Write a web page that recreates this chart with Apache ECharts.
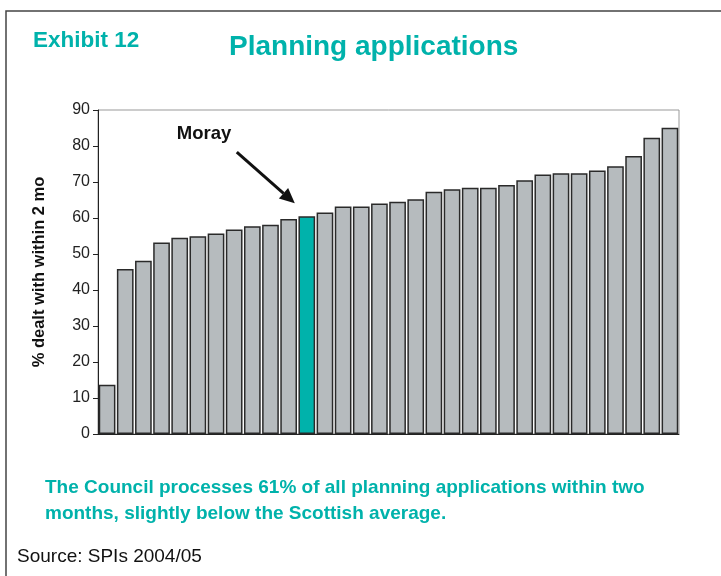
<!DOCTYPE html>
<html><head><meta charset="utf-8">
<script src="https://cdn.jsdelivr.net/npm/echarts@6/dist/echarts.min.js"></script>
<style>html,body{margin:0;padding:0;background:#fff}#c{width:721px;height:576px}</style>
</head><body><div id="c"></div>
<script>
const categories = ["1","2","3","4","5","6","7","8","9","10","11","Moray","13","14","15","16","17","18","19","20","21","22","23","24","25","26","27","28","29","30","31","32"];
const values = [13.7,45.8,48.1,53.2,54.5,54.9,55.7,56.8,57.7,58.1,59.7,60.5,61.5,63.2,63.2,64.0,64.5,65.2,67.3,68.0,68.4,68.4,69.2,70.5,72.1,72.4,72.4,73.2,74.4,77.2,82.3,85.1];
const highlight = "Moray";
const yTicks = [0,10,20,30,40,50,60,70,80,90];

const TEAL = '#00b2ab';
const FONT = '"Liberation Sans", Arial, sans-serif';
const chart = echarts.init(document.getElementById('c'));
chart.setOption({
  animation: false,
  backgroundColor: '#fff',
  grid: {left: 98, right: 42, top: 110, bottom: 142, show: true, borderColor: '#999', borderWidth: 1},
  xAxis: {type: 'category', data: categories, axisLine: {lineStyle: {color: '#222', width: 1}}, axisTick: {show: false}, axisLabel: {show: false}},
  yAxis: {type: 'value', min: yTicks[0], max: yTicks[yTicks.length-1], interval: 10,
    name: '% dealt with within 2 mo', nameLocation: 'middle', nameGap: 50,
    nameTextStyle: {fontFamily: FONT, fontWeight: 'bold', fontSize: 16.5, color: '#111'},
    axisLine: {show: true, lineStyle: {color: '#222', width: 1}},
    axisTick: {show: true, length: 5, lineStyle: {color: '#222'}},
    axisLabel: {fontFamily: FONT, fontSize: 16, color: '#222', margin: 8},
    splitLine: {show: false}},
  series: [{type: 'bar', barCategoryGap: '8%',
    data: values.map((v, i) => ({value: v, itemStyle: {color: categories[i] === highlight ? TEAL : '#b6bbbe'}})),
    itemStyle: {borderColor: '#2a2a2a', borderWidth: 1.5}}]
});
// annotation arrow pointing at the highlighted bar
const hi = categories.indexOf(highlight);
const p = chart.convertToPixel({seriesIndex: 0}, [hi, values[hi]]);
const tip = [p[0] - 12, p[1] - 13];
const start = [p[0] - 70, p[1] - 64];
const ang = Math.atan2(tip[1] - start[1], tip[0] - start[0]);
const L = 15, W = 7;
const base = [tip[0] - L * Math.cos(ang), tip[1] - L * Math.sin(ang)];
const h1 = [base[0] + W * Math.sin(ang), base[1] - W * Math.cos(ang)];
const h2 = [base[0] - W * Math.sin(ang), base[1] + W * Math.cos(ang)];
chart.setOption({graphic: [
  {type: 'rect', shape: {x: 6, y: 11, width: 900, height: 800}, style: {fill: 'none', stroke: '#444', lineWidth: 1.5}, silent: true},
  {type: 'text', left: 33, top: 29, style: {text: 'Exhibit 12', font: 'bold 22.5px ' + FONT, fill: TEAL}},
  {type: 'text', left: 229, top: 33, style: {text: 'Planning applications', font: 'bold 28px ' + FONT, fill: TEAL}},
  {type: 'text', left: 45, top: 475, style: {text: 'The Council processes 61% of all planning applications within two\nmonths, slightly below the Scottish average.', font: 'bold 19px ' + FONT, fill: TEAL, lineHeight: 26}},
  {type: 'text', left: 17, top: 547, style: {text: 'Source: SPIs 2004/05', font: '19px ' + FONT, fill: '#111'}},
  {type: 'text', x: start[0] - 60, y: start[1] - 28, style: {text: highlight, font: 'bold 18.5px ' + FONT, fill: '#111'}},
  {type: 'line', shape: {x1: start[0], y1: start[1], x2: base[0], y2: base[1]}, style: {stroke: '#111', lineWidth: 3}},
  {type: 'polygon', shape: {points: [tip, h1, h2]}, style: {fill: '#111'}}
]});
</script></body></html>
